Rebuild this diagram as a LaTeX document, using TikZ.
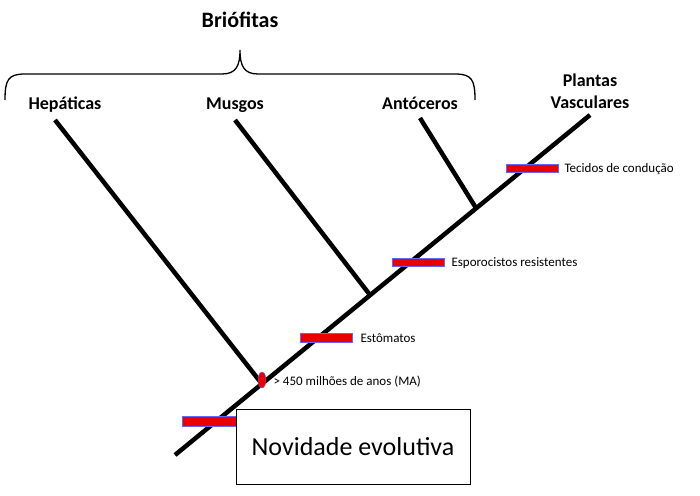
\documentclass[tikz,border=0pt]{standalone}
\usepackage{fontspec}
\setmainfont{Carlito}
\begin{document}
\begin{tikzpicture}[x=1pt, y=-1pt, >=latex,
  ramo/.style = {line width=4.5pt},
  novidade/.style = {fill=red!92!black, draw=blue!60, line width=0.6pt},
  rotulo/.style = {anchor=west, font=\fontsize{13}{15}\selectfont},
  grupo/.style = {anchor=base, font=\bfseries\fontsize{18}{20}\selectfont, align=center}]
\useasboundingbox (0,0) rectangle (700,495);
\coordinate (raiz) at (175,455);
\coordinate (topo) at (590,115);
\coordinate (b1) at (262,384);
\coordinate (b2) at (370,295);
\coordinate (b3) at (476,208);
\draw[ramo] (raiz) -- (topo);
\draw[ramo] (55,120) -- (b1);
\draw[ramo] (235,120) -- (b2);
\draw[ramo] (420,118) -- (b3);
% nomes dos grupos
\node[grupo] (hep) at (65,109) {Hepáticas};
\node[grupo] (mus) at (235,109) {Musgos};
\node[grupo] (ant) at (420,109) {Antóceros};
\node[grupo] (pla) at (590,86) {Plantas};
\node[grupo] (vas) at (590,108) {Vasculares};
\draw[line width=1.3pt] (5,100) .. controls (5,80) and (8,74) .. (25,74) -- (222,74)
  .. controls (236,74) and (240,66) .. (240,50) .. controls (240,66) and (244,74) .. (258,74)
  -- (455,74) .. controls (472,74) and (475,80) .. (475,100);
\node[grupo, font=\bfseries\fontsize{22}{24}\selectfont] (bri) at (240,28) {Briófitas};
% novidades evolutivas
\draw[novidade] (182,416) rectangle (236,426);
\draw[novidade] (300,333) rectangle (352,342);
\node[rotulo] (esto) at (357,338) {Estômatos};
\draw[novidade] (392,258) rectangle (444,266);
\node[rotulo] (espo) at (448,263) {Esporocistos resistentes};
\draw[novidade] (506,164) rectangle (558,172);
\node[rotulo] (teci) at (561,169) {Tecidos de condução};
\fill[red!92!black, draw=blue!60, line width=0.4pt] (262,380) ellipse (4 and 8);
\node[rotulo] (anos) at (270,382) {> 450 milhões de anos (MA)};
\node[draw, line width=1pt, minimum width=234, minimum height=75,
  font=\fontsize{26}{28}\selectfont] (legenda) at (353,447) {Novidade evolutiva};
\end{tikzpicture}
\end{document}
